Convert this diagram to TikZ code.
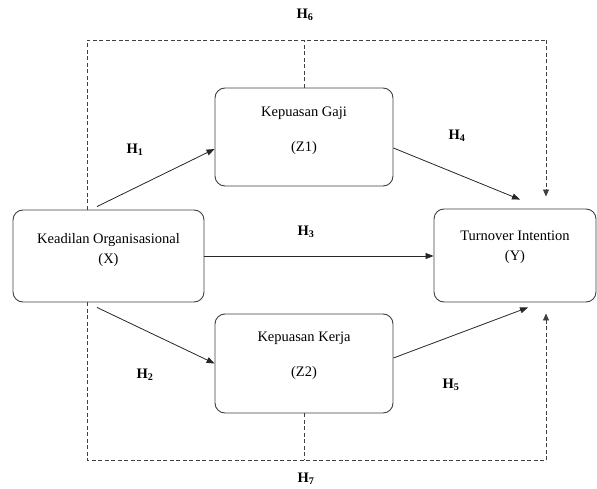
\documentclass[tikz,border=0pt]{standalone}
\usepackage{fontspec}
\setmainfont{Liberation Serif}
\usetikzlibrary{arrows.meta}
\newcommand{\hyp}[1]{\textbf{H\textsubscript{#1}}} % Hypothesis label.

\begin{document}
\begin{tikzpicture}[x=1pt,y=-1pt,
  font=\fontsize{14.5}{20}\selectfont,
  var/.style={draw=black!75,line width=0.9pt,rounded corners=10pt,fill=white},
  link/.style={draw=black!85,line width=0.8pt,-{Triangle[length=8pt,width=6pt]}},
  hypline/.style={draw=black!75,line width=0.8pt,dash pattern=on 4pt off 2.5pt}]
\useasboundingbox (0,0) rectangle (597,489);

% variables
\node[var,minimum width=191pt,minimum height=92pt] (x) at (108.5,256) {};
\node[var,minimum width=178pt,minimum height=98pt] (z1) at (304,137) {};
\node[var,minimum width=178pt,minimum height=99pt] (z2) at (304,363.5) {};
\node[var,minimum width=162pt,minimum height=93pt] (y) at (515,255.5) {};

\node[align=center] (xtxt) at (108.5,250) {Keadilan Organisasional\\(X)};
\node[align=center] (z1txt) at (304,130.5) {Kepuasan Gaji\\[15pt](Z1)};
\node[align=center] (z2txt) at (304,355.5) {Kepuasan Kerja\\[15pt](Z2)};
\node[align=center] (ytxt) at (515,247.5) {Turnover Intention\\(Y)};

% direct paths
\draw[link] ([xshift=-11.5pt,yshift=3pt]x.north) -- ([yshift=-12pt]z1.west);
\draw[link] ([yshift=-11pt]z1.east) -- ([xshift=5pt,yshift=9pt]y.north);
\draw[link] (x.east) -- (x.east -| y.west);
\draw[link] ([xshift=-11.5pt,yshift=-5pt]x.south) -- (z2.west);
\draw[link] ([yshift=5.5pt]z2.east) -- ([xshift=13pt,yshift=-5pt]y.south);

% mediation paths
\coordinate (tl) at (87,40);
\coordinate (tr) at (546,40);
\coordinate (bl) at (87,460);
\coordinate (br) at (546,460);
\draw[hypline] (x.north -| tl) -- (tl) -- (tr);
\draw[hypline,-{Triangle[length=7pt,width=6pt]}] (tr) -- ([yshift=12pt]y.north -| tr);
\draw[hypline] (z1.north) -- (z1.north |- tl);
\draw[hypline] (x.south -| bl) -- (bl) -- (br);
\draw[hypline,-{Triangle[length=7pt,width=6pt]}] (br) -- ([yshift=-11pt]y.south -| br);
\draw[hypline] (z2.south) -- (z2.south |- bl);

% hypotheses
\node (h1) at (135,150) {\hyp{1}};
\node (h2) at (145,375) {\hyp{2}};
\node (h3) at (306,232) {\hyp{3}};
\node (h4) at (457,136) {\hyp{4}};
\node (h5) at (451,385) {\hyp{5}};
\node (h6) at (305,15) {\hyp{6}};
\node (h7) at (306,479) {\hyp{7}};
\end{tikzpicture}
\end{document}
